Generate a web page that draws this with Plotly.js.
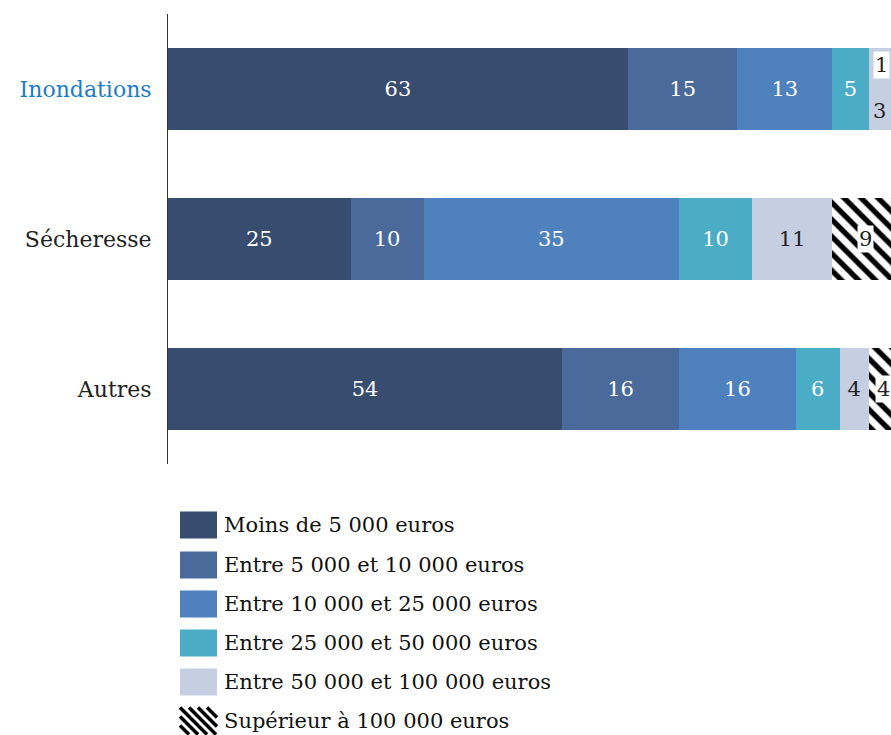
<!DOCTYPE html>
<html><head><meta charset="utf-8">
<script src="https://cdn.plot.ly/plotly-3.0.1.min.js"></script>
<style>html,body{margin:0;padding:0;background:#fff}</style>
</head><body><div id="chart" style="width:891px;height:735px"></div>
<script>
// ---- data ----
const categories = ['Inondations', 'Sécheresse', 'Autres'];
const seriesNames = [
  'Moins de 5 000 euros',
  'Entre 5 000 et 10 000 euros',
  'Entre 10 000 et 25 000 euros',
  'Entre 25 000 et 50 000 euros',
  'Entre 50 000 et 100 000 euros',
  'Supérieur à 100 000 euros'
];
const moins5000   = [63, 25, 54];
const entre5_10   = [15, 10, 16];
const entre10_25  = [13, 35, 16];
const entre25_50  = [5, 10, 6];
const entre50_100 = [3, 11, 4];
const sup100      = [1, 9, 4];

// ---- styling ----
const FONT = 'DejaVu Serif, Liberation Serif, serif';
const colors = ['#374c6e', '#4a6a9b', '#4f81be', '#4bacc6', '#c5cfe1', '#ffffff'];
const textColors = ['#ffffff', '#ffffff', '#ffffff', '#ffffff', '#222222', '#222222'];
const allSeries = [moins5000, entre5_10, entre10_25, entre25_50, entre50_100, sup100];

const W = 891, H = 735, ML = 168, MT = 14, PH = 450, PW = W - ML;
const pxPerUnit = 7.3;

const traces = allSeries.map((vals, i) => {
  const t = {
    type: 'bar', orientation: 'h', name: seriesNames[i],
    y: categories, x: vals,
    marker: { color: colors[i], line: { width: 0 } },
    showlegend: false, hoverinfo: 'skip',
    textposition: 'inside', insidetextanchor: 'middle', constraintext: 'none',
    textfont: { family: FONT, size: 21, color: textColors[i] }
  };
  if (i < 4) {
    t.text = vals.map(v => String(v));
  } else if (i === 4) {
    t.text = vals.map((v, j) => j === 0 ? '' : String(v));
  } else {
    t.text = vals.map(() => '');
    t.marker.pattern = { shape: '\\', fgcolor: '#000000', bgcolor: '#ffffff', size: 12, solidity: 0.45 };
  }
  return t;
});

// annotations for narrow / hatched segments
const annotations = [];
categories.forEach((c, j) => {
  const start5 = allSeries.slice(0, 4).reduce((s, a) => s + a[j], 0);
  const start6 = start5 + entre50_100[j];
  if (j === 0) {
    annotations.push({ x: start5 + entre50_100[j] / 2, y: c, xref: 'x', yref: 'y', text: String(entre50_100[j]),
      showarrow: false, yshift: -22, font: { family: FONT, size: 21, color: '#222' } });
    annotations.push({ x: start6, y: c, xref: 'x', yref: 'y', text: String(sup100[j]),
      xanchor: 'right', xshift: sup100[j] * pxPerUnit - 8,
      showarrow: false, yshift: 24, bgcolor: '#ffffff', borderpad: 1, font: { family: FONT, size: 21, color: '#222' } });
  } else {
    annotations.push({ x: start6 + sup100[j] / 2, y: c, xref: 'x', yref: 'y', text: String(sup100[j]),
      showarrow: false, bgcolor: '#ffffff', borderpad: 1, font: { family: FONT, size: 21, color: '#222' } });
  }
});

// custom legend
const px2x = px => (px - ML) / PW;
const px2y = py => (MT + PH - py) / PH;
const shapes = [];
const rowY = [525, 565, 604, 643, 682, 721];
seriesNames.forEach((n, i) => {
  const cy = rowY[i];
  const x0 = 180, x1 = 217, y0 = cy - 13.5, y1 = cy + 13.5;
  if (i < 5) {
    shapes.push({ type: 'rect', xref: 'paper', yref: 'paper', x0: px2x(x0), x1: px2x(x1), y0: px2y(y1), y1: px2y(y0),
      fillcolor: colors[i], line: { width: 0 } });
  } else {
    for (let k = -4; k < 6; k++) {
      const c = x0 + k * 9 - y0; // line: x - y = c
      let pts = [];
      [[y0, 'y'], [y1, 'y'], [x0, 'x'], [x1, 'x']].forEach(([v, t]) => {
        let x, y;
        if (t === 'y') { y = v; x = c + y; } else { x = v; y = x - c; }
        if (x >= x0 - 1e-6 && x <= x1 + 1e-6 && y >= y0 - 1e-6 && y <= y1 + 1e-6) pts.push([x, y]);
      });
      if (pts.length >= 2) {
        pts.sort((a, b) => a[0] - b[0]);
        const a = pts[0], b = pts[pts.length - 1];
        if (Math.hypot(b[0] - a[0], b[1] - a[1]) > 3)
          shapes.push({ type: 'line', xref: 'paper', yref: 'paper', x0: px2x(a[0]), y0: px2y(a[1]), x1: px2x(b[0]), y1: px2y(b[1]),
            line: { color: '#000', width: 3.5 } });
      }
    }
  }
  annotations.push({ xref: 'paper', yref: 'paper', x: px2x(222), y: px2y(cy), xanchor: 'left', yanchor: 'middle',
    text: n, showarrow: false, font: { family: FONT, size: 21, color: '#111' } });
});

const layout = {
  width: W, height: H,
  margin: { l: ML, r: 0, t: MT, b: H - MT - PH, pad: 0 },
  paper_bgcolor: '#ffffff', plot_bgcolor: '#ffffff',
  barmode: 'stack', bargap: 0.447,
  font: { family: FONT, size: 22, color: '#222' },
  xaxis: { range: [0, PW / pxPerUnit], visible: false, fixedrange: true },
  yaxis: {
    type: 'category', categoryorder: 'array', categoryarray: categories, autorange: 'reversed',
    tickmode: 'array', tickvals: categories,
    ticktext: categories.map((c, j) => j === 0 ? '<span style="color:#1e7bc6">' + c + '</span>' : c),
    showline: true, linecolor: '#333', linewidth: 1, ticks: '', showgrid: false, zeroline: false,
    ticklabelstandoff: 11,
    tickfont: { family: FONT, size: 22, color: '#222' }
  },
  showlegend: false,
  shapes: shapes,
  annotations: annotations
};

Plotly.newPlot('chart', traces, layout, { displayModeBar: false, staticPlot: true });
</script>
</body></html>
